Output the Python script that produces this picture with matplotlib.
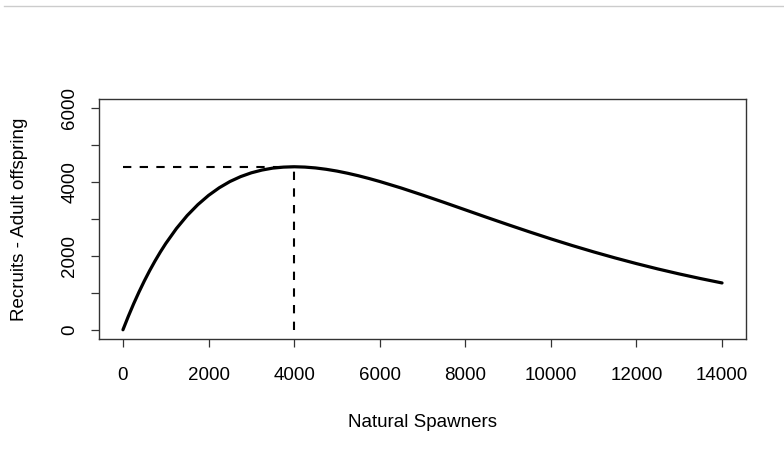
import matplotlib.pyplot as plt
from matplotlib.lines import Line2D

# spawners (x) and recruits (y)
spawners = [0, 125, 250, 375, 500, 625, 750, 875, 1000, 1250, 1500, 1750, 2000,
            2250, 2500, 2750, 3000, 3250, 3500, 3750, 4000, 4250, 4500, 4750,
            5000, 5250, 5500, 5750, 6000, 6500, 7000, 7500, 8000, 8500, 9000,
            9500, 10000, 10500, 11000, 11500, 12000, 12500, 13000, 13500, 14000]
recruits = [0, 363, 705, 1024, 1324, 1604, 1865, 2109, 2336, 2743, 3093, 3389, 3639,
            3846, 4015, 4148, 4251, 4326, 4378, 4405, 4415, 4406, 4383, 4346,
            4298, 4239, 4172, 4097, 4016, 3840, 3649, 3451, 3248, 3045, 2846,
            2651, 2462, 2281, 2109, 1946, 1792, 1647, 1512, 1386, 1268]

# peak of the curve (dashed guide lines)
peak_s = 4000
peak_r = 4415

x_ticks = [0, 2000, 4000, 6000, 8000, 10000, 12000, 14000]
y_ticks = [0, 2000, 4000, 6000]

plt.rcParams['font.family'] = ['Liberation Sans', 'DejaVu Sans']

fig = plt.figure(figsize=(7.84, 4.51), dpi=100)
ax = fig.add_axes([99 / 784, 1 - 339 / 451, 647 / 784, 240 / 451])

ax.plot(spawners, recruits, color='black', linewidth=2.3,
        solid_capstyle='round', solid_joinstyle='round')
ax.plot([0, peak_s], [peak_r, peak_r], color='black', linewidth=1.5,
        linestyle=(0, (4, 4)))
ax.plot([peak_s, peak_s], [0, peak_r], color='black', linewidth=1.5,
        linestyle=(0, (4, 4)))

ax.set_xlim(-560, 14560)
ax.set_ylim(-250, 6250)
ax.set_xticks(x_ticks)
ax.set_yticks(y_ticks)
ax.set_yticks([1000, 3000, 5000], minor=True)
ax.tick_params(which='both', direction='out', length=6, width=0.9, color='#333333',
               labelsize=13.5)
ax.tick_params(axis='x', pad=14)
ax.tick_params(axis='y', pad=9)
for lab in ax.get_yticklabels():
    lab.set_rotation(90)
    lab.set_va('center')
for lab in ax.get_yticklabels(which='minor'):
    lab.set_visible(False)

for s in ax.spines.values():
    s.set_color('#333333')
    s.set_linewidth(1.0)

ax.set_xlabel('Natural Spawners', fontsize=13.5, labelpad=22)
ax.set_ylabel('Recruits - Adult offspring', fontsize=13.5, labelpad=24)

# thin gray rule at the very top of the image
fig.add_artist(Line2D([4 / 784, 1], [1 - 6 / 451, 1 - 6 / 451],
                      color='#cccccc', linewidth=1.0))

fig.savefig('out.png', dpi=100)
